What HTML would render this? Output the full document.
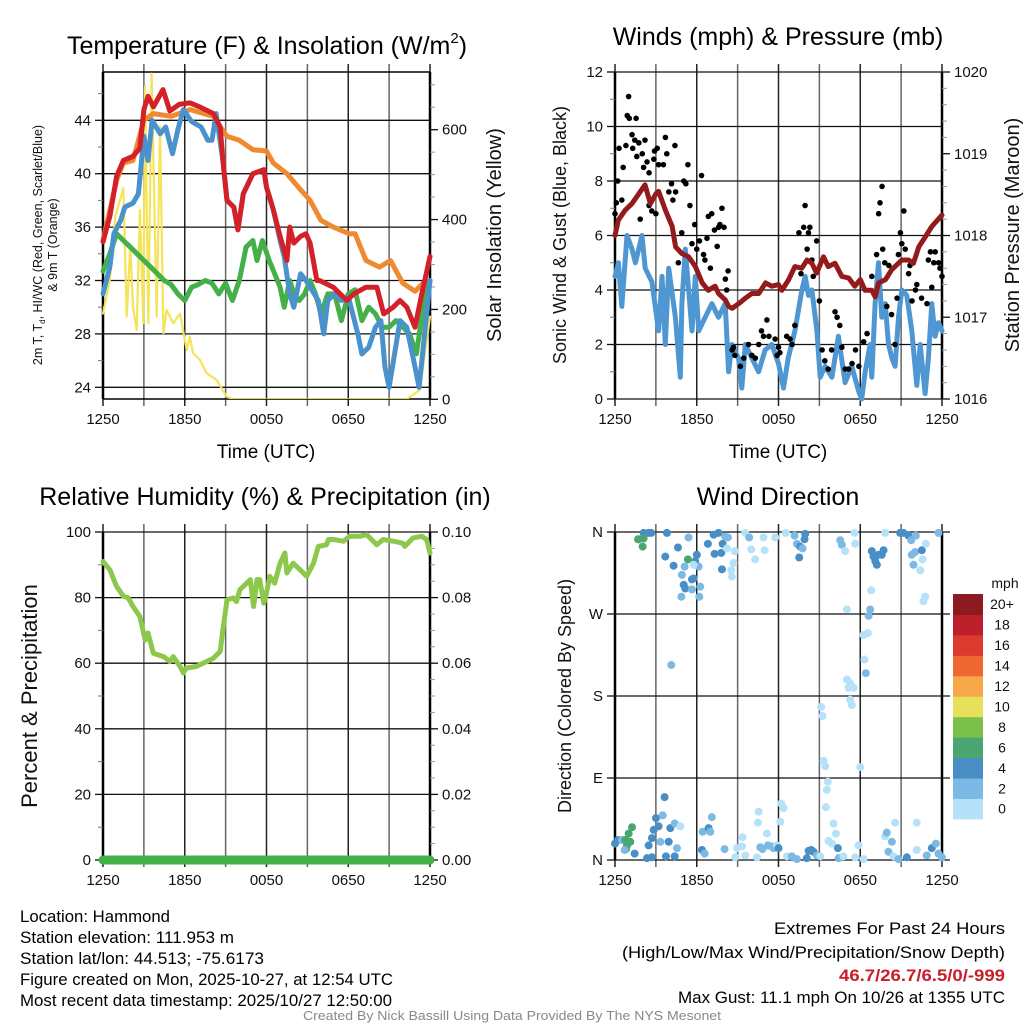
<!DOCTYPE html>
<html><head><meta charset="utf-8"><style>
html,body{margin:0;padding:0;background:#fff;}
svg{display:block;font-family:"Liberation Sans",Arial,sans-serif;}
</style></head><body>
<svg id="fig" width="1024" height="1024" viewBox="0 0 1024 1024" xmlns="http://www.w3.org/2000/svg">
<rect width="1024" height="1024" fill="#fff"/>
<defs><clipPath id="c1"><rect x="99" y="72" width="335" height="327"/></clipPath></defs>
<g id="root"></g>
</svg>
<script>
// ---------- DATA ----------
const tempHours=[0,0.5,1.0,1.5,2.2,2.7,3.0,3.3,3.7,4.4,4.9,5.6,6.4,7.1,8.1,8.6,8.8,9.1,9.6,9.9,10.3,11.0,11.8,12.0,12.5,13.0,13.5,13.7,14.0,14.5,14.9,15.2,15.7,15.9,16.9,17.9,18.4,19.3,20.1,20.6,21.3,21.8,22.3,22.9,23.4,24];
const tempValues=[34.9,36.8,39.8,41.0,41.3,41.9,44.8,45.8,45.0,46.3,44.7,45.2,45.3,45.0,44.5,43.5,41.0,38.0,37.5,35.8,38.5,40.0,40.3,39.0,37.3,35.3,33.5,36.0,34.8,35.3,35.5,34.8,32.0,32.0,31.5,30.5,31.0,31.5,31.5,29.5,30.0,30.5,30.0,28.5,31.0,33.8];
const t9Hours=[0,1,1.5,2.2,3,3.7,5,6.4,8.1,8.6,9.1,10,11,12,12.5,13.5,14.5,15.2,16,16.9,18.1,18.5,19.3,20.3,21.1,22,22.9,23.5,24];
const t9Values=[35,39.5,40.8,41,44,44.5,44.3,44.8,44.3,43.5,42.8,42.5,41.8,41.7,40.8,40,38.8,38,36.5,36,35.5,35.5,33.5,33,33.5,31.8,31.2,31.8,32];
const wcHours=[0,0.5,0.8,1.3,1.6,2.2,2.6,3.0,3.3,3.6,4.2,4.6,5.1,5.5,5.9,6.5,7.2,7.7,8.0,8.3,8.8,9.1,9.6,9.9,10.3,11,11.8,12,12.5,13,13.3,13.7,14.0,14.5,14.9,15.2,15.8,16.2,16.5,17,17.5,18,18.7,19,19.5,20,20.4,20.7,21,21.8,22.3,22.8,23.2,23.6,24];
const wcValues=[31,33,35.5,36.5,37.5,37.8,38.5,42.8,41,44,43,43.5,41.5,43.3,44.8,43.9,43.5,42.5,42.5,44.5,41,38,37.5,35.8,38.5,40,40.3,39,37.3,35,33.8,31,30,32.5,32,31.5,30.5,28,30.5,31,30.5,30.8,28,26.5,27,28.5,29,25.5,24,29,28.5,26,24,28,32];
const tdHours=[0,0.5,1,1.5,2,2.5,3,3.5,4,4.5,5,5.5,6,6.5,7,7.5,8,8.5,9,9.5,10,10.5,11,11.3,11.7,12.2,12.6,13,13.3,13.7,14,14.4,14.8,15.2,15.6,16,16.5,17,17.5,18,18.5,19,19.5,20,20.5,21,21.5,22,22.5,23,23.5,24];
const tdValues=[32.7,34,35.5,35,34.5,34,33.5,33,32.5,32,31.7,31,30.5,31.5,31.7,32,31.8,31,31.8,30.5,32,34.5,35,33.5,35,33.5,32.5,31.5,30,32,31,30.5,31,32,31,29.5,31,31,29,31,31.3,29,30,29.5,28.5,28.5,29,28.5,28,26.5,30,32];
const solarHours=[0,0.5,0.9,1.5,1.74,2.0,2.2,2.47,2.71,2.96,3.08,3.33,3.57,3.94,4.18,4.43,4.67,5.16,5.65,6.14,6.38,6.62,7.11,7.6,8.34,9.07,9.56,14,20,22.27,23.25,24];
const solarValues=[191,265,406,470,184,340,206,154,421,169,696,169,725,184,607,147,199,169,191,110,139,102,88,58,43,6,0,0,0,0,21,184];
const windHours=[0,0.25,0.5,0.88,1.25,1.5,1.98,2.22,2.71,3.2,3.45,3.69,3.94,4.43,4.79,4.91,5.16,5.65,5.89,6.14,6.62,7.11,7.6,8.09,8.34,8.58,9.07,9.31,9.56,10.05,10.54,11.02,11.51,12.0,12.37,12.71,13.2,13.72,13.96,14.2,14.45,14.82,15.06,15.43,15.92,16.4,16.89,17.38,17.87,18.11,18.36,18.72,18.85,19.09,19.34,19.58,19.83,20.07,20.32,20.56,20.81,21.05,21.42,21.78,22.15,22.4,22.76,23.0,23.25,23.49,23.74,24];
const windValues=[4.5,5.0,3.4,6.0,5.5,5.0,6.0,4.8,4.3,2.5,4.5,2.0,4.8,3.0,0.8,3.5,5.5,2.5,4.5,2.5,3.0,3.5,3.0,3.5,1.0,2.0,1.5,0.4,2.0,1.5,1.0,1.8,2.0,1.3,0.4,1.5,2.5,4.0,4.5,3.8,4.0,2.5,0.8,1.2,0.8,2.3,0.6,1.2,0.3,0,1.0,2.0,0.8,3.5,5.0,3.0,3.5,2.0,1.5,1.2,3.0,4.0,3.8,2.5,0.5,2.0,0.2,1.5,3.5,2.3,2.8,2.5];
const gustHours=[0,0.1,0.2,0.3,0.5,0.6,0.8,0.9,1.0,1.05,1.25,1.3,1.45,1.55,1.6,1.75,1.85,2.0,2.1,2.2,2.35,2.5,2.5,2.7,2.85,2.9,3.0,3.1,3.2,3.55,3.7,3.8,3.95,4.15,4.25,4.4,4.45,4.65,4.9,5.05,5.2,5.35,5.5,5.65,5.85,6.0,6.2,6.35,6.5,6.6,6.75,6.85,7.0,7.1,7.3,7.5,7.6,7.7,7.85,8.0,8.1,8.2,8.3,8.6,8.7,8.8,9.2,9.45,9.8,10.05,10.3,10.55,10.75,10.9,11.15,11.3,11.75,11.9,12.0,12.1,12.6,12.85,13.0,13.2,13.5,13.65,13.85,13.95,14.1,14.2,14.3,14.45,14.55,14.8,15.0,15.2,15.4,15.65,15.9,16.15,16.3,16.5,16.65,16.9,17.15,17.4,17.65,17.9,18.25,18.5,18.85,19.2,19.35,19.45,19.6,19.65,19.8,19.95,20.1,20.3,20.55,20.7,20.8,20.95,21.05,21.2,21.3,21.55,21.65,21.8,22.05,22.15,22.5,22.9,23.0,23.15,23.25,23.4,23.5,23.75,23.85,24];
const gustValues=[6.8,7.2,8.0,9.2,7.3,8.5,9.3,10.4,11.1,10.3,9.7,9.2,9.5,10.3,8.9,9.4,6.6,9.0,8.5,9.5,8.7,8.3,7.1,6.9,8.8,9.1,6.8,9.2,8.6,8.6,9.6,9.0,7.6,7.9,7.3,9.3,7.6,5.0,6.1,8.0,7.9,8.6,7.1,5.7,6.4,5.5,5.8,8.2,5.3,5.1,5.9,6.7,4.8,6.8,6.2,5.6,6.3,6.4,7.0,6.3,4.4,4.0,4.7,1.8,1.9,1.6,1.2,1.5,2.0,1.6,1.5,2.0,2.5,2.3,2.9,2.3,2.2,1.6,1.9,1.7,2.3,2.2,2.0,2.7,6.1,4.6,6.3,7.1,5.5,6.1,6.3,5.1,4.5,5.8,3.6,1.8,1.4,1.1,1.8,3.2,3.0,2.7,1.9,1.1,1.1,1.3,1.8,1.2,2.1,2.4,4.5,5.3,6.8,7.2,7.8,5.5,5.0,3.4,4.9,3.1,2.0,3.7,5.3,6.1,5.7,6.9,5.5,4.6,4.9,3.6,4.0,4.2,3.7,3.5,5.1,5.4,4.1,5.0,5.4,5.0,4.8,4.5];
const presHours=[0,0.25,0.75,1.25,1.75,2.2,2.6,3.0,3.2,3.7,4.2,4.45,4.9,5.4,5.9,6.4,6.85,7.35,7.6,8.1,8.35,8.6,9.1,9.55,10.05,10.55,11.05,11.5,12.0,12.25,12.75,13.2,13.7,14.1,14.45,14.8,15.3,15.65,16.15,16.65,17.15,17.6,18.0,18.35,18.85,19.1,19.35,19.85,20.3,21.05,21.55,21.9,22.3,22.8,23.25,24];
const presValues=[1018.0,1018.19,1018.31,1018.39,1018.51,1018.62,1018.39,1018.51,1018.54,1018.31,1018.11,1017.86,1017.78,1017.74,1017.62,1017.42,1017.33,1017.38,1017.29,1017.21,1017.13,1017.11,1017.17,1017.23,1017.29,1017.29,1017.42,1017.38,1017.40,1017.33,1017.46,1017.62,1017.60,1017.70,1017.66,1017.54,1017.74,1017.62,1017.66,1017.50,1017.48,1017.38,1017.46,1017.33,1017.33,1017.25,1017.42,1017.46,1017.58,1017.70,1017.70,1017.66,1017.86,1017.99,1018.11,1018.25];
const rhHours=[0,0.5,1.0,1.5,1.85,2.2,2.7,3.1,3.3,3.7,4.45,4.9,5.15,5.65,5.9,6.1,6.85,7.35,8.1,8.6,8.8,9.1,9.55,9.8,10.05,10.55,10.8,11.05,11.3,11.5,11.8,12.0,12.25,12.6,13.0,13.35,13.5,13.95,14.45,14.95,15.45,15.8,16.4,16.55,16.9,17.65,18.1,18.85,19.35,20.1,20.55,21.3,22.0,22.15,22.75,23.4,23.75,24];
const rhValues=[91,88.5,83.4,80.4,79.9,77.3,74.3,67,69.2,63,62,60.5,62,59,57,58.5,59,60,61.5,63.6,70.2,79.3,79.9,78.8,82.4,84.4,85.5,77.3,85.5,85.5,78.3,81.4,86.5,84.4,90.5,93.6,87.5,90.5,88.5,86.5,90.5,95.6,96.1,97.7,97.7,97.2,98.7,98.7,99.2,96.1,97.7,97.2,96.6,95.6,98.2,98.7,97.7,93.6];
const precipHours=[0,24];
const precipValues=[0,0];
const dirHours=[1.74,2.10,2.47,2.66,1.69,2.03,2.10,3.81,3.69,4.30,4.62,5.40,5.35,5.11,4.91,5.04,5.16,5.65,5.77,5.65,6.26,4.87,6.19,6.01,5.89,6.14,5.77,6.82,7.24,7.60,8.09,8.29,7.31,7.80,7.90,7.85,8.22,8.78,8.70,8.53,8.58,9.56,9.85,10.0,10.29,10.9,10.98,11.76,12.54,13.18,13.35,13.59,13.77,13.91,13.96,13.52,16.53,16.65,16.89,17.58,17.63,18.85,18.97,19.22,19.34,19.58,19.71,19.10,19.83,20.93,21.17,21.54,21.74,22.08,21.78,22.03,22.52,21.91,22.57,22.81,22.40,22.76,22.64,23.74,
4.13,18.80,17.02,18.73,18.61,18.56,18.24,18.31,18.41,17.02,17.26,17.14,17.51,17.26,17.38,15.13,15.23,15.31,15.43,18.0,15.62,15.55,15.48,
0.0,0.22,0.51,0.76,0.88,1.12,1.0,1.25,0.81,0.71,1.44,2.35,2.71,2.47,2.71,2.84,3.01,3.20,3.50,3.64,3.33,3.94,4.06,4.38,4.55,4.79,3.74,4.38,6.43,6.87,6.99,7.11,6.38,6.58,8.04,8.83,8.95,9.32,9.36,9.56,10.42,10.54,10.49,10.66,10.83,11.15,11.22,11.47,11.64,11.88,12.0,12.13,12.2,12.37,12.62,12.98,13.35,14.08,14.21,14.40,14.57,14.82,15.06,15.67,15.92,16.04,16.21,16.36,16.41,16.77,17.63,17.87,18.24,19.83,19.95,20.32,20.56,20.07,20.44,20.81,21.42,22.15,22.15,22.88,23.25,23.55,23.74,23.99];
const dirDegrees=[352,359,359,359,352,344,353,359,333,323,343,354,330,322,313,302,298,308,309,297,300,289,289,335,328,322,324,347,357,359,355,354,336,337,347,319,342,339,326,318,311,359,354,341,330,354,340,354,359,356,347,344,342,352,358,332,351,346,339,359,347,339,333,324,335,335,340,328,359,359,359,356,351,356,335,338,340,324,330,347,318,289,284,359,
214,296,275,275,268,249,247,220,205,198,194,189,189,176,170,168,158,109,103,102,86,77,58,
18,22,22,22,16,20,29,36,12,11,7,2,3,16,24,33,46,37,49,69,20,20,35,40,13,37,4,4,31,35,31,47,11,7,12,3,13,15,25,5,3,53,41,14,12,29,16,15,13,16,13,42,62,57,4,4,1,2,10,11,9,5,4,21,18,40,29,13,2,4,3,16,1,26,30,20,41,9,4,1,3,41,11,5,13,18,7,3];
const dirSpeeds=[5,5,5,5,7,7,7,5,5,5,5,3,7,3,3,5,5,5,5,3,3,3,3,5,5,3,1,5,5,5,3,3,5,5,5,5,1,1,1,1,1,1,3,1,1,1,1,1,1,3,3,5,3,5,5,5,3,3,1,1,1,5,5,5,5,5,5,5,1,5,5,5,3,3,3,3,5,3,1,1,1,1,1,3,
3,1,1,3,3,1,1,1,3,1,1,1,1,1,1,1,1,1,1,1,1,1,1,
5,5,3,7,7,7,7,7,7,3,5,5,5,5,5,5,5,5,3,5,3,5,5,3,3,1,5,5,3,5,3,3,5,3,3,1,1,1,1,1,1,1,1,3,3,1,3,3,3,1,5,1,1,1,1,3,3,5,5,5,5,3,1,1,1,1,1,5,3,1,1,1,1,1,3,3,1,3,1,3,5,1,1,3,5,3,3,3];
const timeLabels=["1250","1850","0050","0650","1250"];
const speedBinLabels=["0","2","4","6","8","10","12","14","16","18","20+"];
const speedBinColors=["#b5e2f8","#7cb9e4","#4a8ec6","#4aa670","#7cc04c","#e6e05a","#f6a84a","#ee6630","#dc3a2c","#bd1f2a","#8d1a1e"];

// ---------- HELPERS ----------
const NS="http://www.w3.org/2000/svg";
const root=document.getElementById('root');
function el(tag,attrs,parent,text){const e=document.createElementNS(NS,tag);for(const k in attrs)e.setAttribute(k,attrs[k]);if(text!==undefined)e.textContent=text;(parent||root).appendChild(e);return e;}
function lin(d0,d1,r0,r1){return v=>r0+(v-d0)*(r1-r0)/(d1-d0);}
const TF=15;

function frame(g,X0,X1,Y0,Y1){
  for(let i=0;i<=8;i++){
    const x=X0+i*(X1-X0)/8;
    const l=el('line',{x1:x,x2:x,y1:Y0-8,y2:Y1+7,stroke:(i%2?'#666':'#222'),'stroke-width':1.5},g);
    
    
  }
  for(let i=0;i<5;i++){
    const t=el('text',{x:X0+i*(X1-X0)/4,y:Y1+25,'text-anchor':'middle','font-size':TF,fill:'#111'},g,timeLabels[i]);
    
    
  }
  el('line',{x1:X0,x2:X0,y1:Y0,y2:Y1,stroke:'#000','stroke-width':2.5},g);
  el('line',{x1:X1,x2:X1,y1:Y0,y2:Y1,stroke:'#000','stroke-width':2.5},g);
}
function yAxis(g,X0,X1,sy,vals,labels,minor,side){
  vals.forEach((v,i)=>{
    const y=sy(v);
    el('line',{x1:X0,x2:X1,y1:y,y2:y,stroke:'#111','stroke-width':1.3},g);
    if(side==='left'){
      el('line',{x1:X0-8,x2:X0,y1:y,y2:y,stroke:'#111','stroke-width':1.3},g);
      const t=el('text',{x:X0-12,y:y+5,'text-anchor':'end','font-size':TF,fill:'#111'},g,labels[i]);
      
      
    }
  });
  minor.forEach(v=>{const y=sy(v);el('line',{x1:X0-5,x2:X0,y1:y,y2:y,stroke:'#777','stroke-width':1},g);});
}
function rAxis(g,X1,sy,vals,labels,minor){
  vals.forEach((v,i)=>{const y=sy(v);
    el('line',{x1:X1,x2:X1+8,y1:y,y2:y,stroke:'#111','stroke-width':1.3},g);
    const t=el('text',{x:X1+12,y:y+5,'font-size':TF,fill:'#111'},g,labels[i]);
    
    
  });
  minor.forEach(v=>{const y=sy(v);el('line',{x1:X1,x2:X1+5,y1:y,y2:y,stroke:'#999','stroke-width':1},g);});
}
function path(g,xs,ys,sx,sy,color,w,name){
  let d='';xs.forEach((h,i)=>{d+=(i?'L':'M')+sx(h).toFixed(1)+','+sy(ys[i]).toFixed(1);});
  const p=el('path',{d:d,fill:'none',stroke:color,'stroke-width':w,'stroke-linejoin':'round','stroke-linecap':'round'},g);
  
  
  return p;
}
function rtext(g,x,y,size,txt,name){
  const t=el('text',{x:0,y:0,'font-size':size,'text-anchor':'middle',transform:`translate(${x},${y}) rotate(-90)`,fill:'#111'},g,txt);
  
  
  return t;
}
function title(x,y,txt,name,size){const t=el('text',{x:x,y:y,'text-anchor':'middle','font-size':size||25,fill:'#000'},root,txt);return t;}
const range=(a,b,s)=>{const r=[];for(let v=a;v<=b+1e-9;v+=s)r.push(+v.toFixed(4));return r;};

// ---------- PANEL 1: Temperature ----------
{
  const g=el('g',{});
  
  
  const X0=103,X1=430,Y0=72,Y1=399;
  const sx=lin(0,24,X0,X1), sy=lin(24,44,387.3,120.3), ss=lin(0,600,399.3,129.7);
  frame(g,X0,X1,Y0,Y1);
  yAxis(g,X0,X1,sy,[24,28,32,36,40,44],["24","28","32","36","40","44"],[26,30,34,38,42,46],'left');
  rAxis(g,X1,ss,[0,200,400,600],["0","200","400","600"],[50,100,150,250,300,350,450,500,550,650,700]);
  el('line',{x1:X0,x2:X1,y1:Y0,y2:Y0,stroke:'#000','stroke-width':1.5},g);
  el('line',{x1:X0,x2:X1,y1:Y1,y2:Y1,stroke:'#000','stroke-width':1.5},g);
  const cg=el('g',{'clip-path':'url(#c1)'},g);
  path(cg,solarHours,solarValues,sx,ss,'#f5e35a',2.2,'solar-insolation-line');
  path(cg,t9Hours,t9Values,sx,sy,'#f08a30',5,'9m-temperature-line');
  path(cg,tdHours,tdValues,sx,sy,'#44b048',5,'dewpoint-line');
  path(cg,wcHours,wcValues,sx,sy,'#4a92cc',5,'wind-chill-line');
  path(cg,tempHours,tempValues,sx,sy,'#d42028',5,'temperature-line');
  const t1=el('text',{x:0,y:0,'font-size':12.5,'text-anchor':'middle',transform:'translate(42,245) rotate(-90)',fill:'#111'},g);
  
  
  t1.innerHTML='2m T, T<tspan font-size="8" dy="3">d</tspan><tspan dy="-3">, HI/WC (Red, Green, Scarlet/Blue)</tspan>';
  rtext(g,57,245,12.5,'& 9m T (Orange)','temperature-y-axis-title-line2');
  rtext(g,501,235,20,'Solar Insolation (Yellow)','solar-y-axis-title');
  const xt=el('text',{x:266,y:458,'text-anchor':'middle','font-size':19,fill:'#000'},g,'Time (UTC)');
  
  
}
{ const t=el('text',{x:267,y:54,'text-anchor':'middle','font-size':25,fill:'#000'},root);
  
  
  t.innerHTML='Temperature (F) &amp; Insolation (W/m<tspan font-size="15" dy="-11">2</tspan><tspan dy="11">)</tspan>';
}

// ---------- PANEL 2: Winds ----------
{
  const g=el('g',{});
  
  
  const X0=615,X1=942,Y0=72,Y1=399;
  const sx=lin(0,24,X0,X1), sy=lin(0,12,Y1,Y0), sp=lin(1016,1020,Y1,Y0);
  frame(g,X0,X1,Y0,Y1);
  yAxis(g,X0,X1,sy,[0,2,4,6,8,10,12],["0","2","4","6","8","10","12"],[1,3,5,7,9,11],'left');
  rAxis(g,X1,sp,[1016,1017,1018,1019,1020],["1016","1017","1018","1019","1020"],range(1016.2,1019.8,0.2).filter(v=>Math.abs(v-Math.round(v))>0.01));
  path(g,windHours,windValues,sx,sy,'#4f97d2',5,'sonic-wind-line');
  gustHours.forEach((h,i)=>{
    const c=el('circle',{cx:sx(h),cy:sy(gustValues[i]),r:2.8,fill:'#000'},g);
    
    
  });
  path(g,presHours,presValues,sx,sp,'#941a1c',5,'station-pressure-line');
  rtext(g,566,235,18,'Sonic Wind & Gust (Blue, Black)','wind-y-axis-title');
  rtext(g,1019,235,20,'Station Pressure (Maroon)','pressure-y-axis-title');
  const xt=el('text',{x:778,y:458,'text-anchor':'middle','font-size':19,fill:'#000'},g,'Time (UTC)');
  
  
}
title(778,45,'Winds (mph) & Pressure (mb)','winds-title',25);

// ---------- PANEL 3: RH ----------
{
  const g=el('g',{});
  
  
  const X0=103,X1=430,Y0=532,Y1=860;
  const sx=lin(0,24,X0,X1), sy=lin(0,100,Y1,Y0), sq=lin(0,0.1,Y1,Y0);
  frame(g,X0,X1,Y0,Y1);
  yAxis(g,X0,X1,sy,[0,20,40,60,80,100],["0","20","40","60","80","100"],[10,30,50,70,90],'left');
  rAxis(g,X1,sq,[0,0.02,0.04,0.06,0.08,0.1],["0.00","0.02","0.04","0.06","0.08","0.10"],[0.005,0.01,0.015,0.025,0.03,0.035,0.045,0.05,0.055,0.065,0.07,0.075,0.085,0.09,0.095]);
  path(g,rhHours,rhValues,sx,sy,'#8cc84c',5,'relative-humidity-line');
  path(g,precipHours,precipValues,sx,sq,'#44b048',9,'precipitation-line');
  rtext(g,37,696,22,'Percent & Precipitation','rh-y-axis-title');
}
title(265,505,'Relative Humidity (%) & Precipitation (in)','humidity-title',25);

// ---------- PANEL 4: Wind Direction ----------
{
  const g=el('g',{});
  
  
  const X0=615,X1=942,Y0=532,Y1=860;
  const sx=lin(0,24,X0,X1), sy=lin(0,360,Y1,Y0);
  frame(g,X0,X1,Y0,Y1);
  yAxis(g,X0,X1+8,sy,[0,90,180,270,360],["N","E","S","W","N"],[],'left');
  const colorFor=s=>speedBinColors[Math.min(10,Math.floor(s/2))];
  dirHours.forEach((h,i)=>{
    const c=el('circle',{cx:sx(h),cy:sy(dirDegrees[i]),r:4,fill:colorFor(dirSpeeds[i])},g);
    
    
  });
  rtext(g,571,696,18,'Direction (Colored By Speed)','direction-y-axis-title');
  const cb=el('g',{},g);
  
  
  const top=594,h=20.45;
  speedBinColors.forEach((c,i)=>{
    const y=top+(10-i)*h;
    const r=el('rect',{x:953,y:y,width:30,height:h+0.5,fill:c},cb);
    
    
    const t=el('text',{x:1002,y:y+h/2+5,'text-anchor':'middle','font-size':14,fill:'#111'},cb,speedBinLabels[i]);
    
    
  });
  const mt=el('text',{x:1005,y:588,'text-anchor':'middle','font-size':14,fill:'#111'},cb,'mph');
  
  
}
title(778,505,'Wind Direction','wind-direction-title',25);

// ---------- FOOTER TEXT ----------
function ftext(x,y,txt,w,anchor,name,extra){
  const t=el('text',Object.assign({x:x,y:y,'font-size':16.5,fill:'#000','text-anchor':anchor,textLength:w,lengthAdjust:'spacingAndGlyphs'},extra||{}),root,txt);
  
  
}
ftext(20,922,'Location: Hammond',150,'start','location-text');
ftext(20,943,'Station elevation: 111.953 m',214,'start','elevation-text');
ftext(20,964,'Station lat/lon: 44.513; -75.6173',244,'start','latlon-text');
ftext(20,985,'Figure created on Mon, 2025-10-27, at 12:54 UTC',373,'start','created-text');
ftext(20,1006,'Most recent data timestamp: 2025/10/27 12:50:00',372,'start','timestamp-text');
ftext(1005,934,'Extremes For Past 24 Hours',231,'end','extremes-title');
ftext(1005,958,'(High/Low/Max Wind/Precipitation/Snow Depth)',383,'end','extremes-legend');
ftext(1005,981,'46.7/26.7/6.5/0/-999',166,'end','extremes-values',{fill:'#c8202a','font-weight':'bold'});
ftext(1005,1003,'Max Gust: 11.1 mph On 10/26 at 1355 UTC',327,'end','max-gust-text');
ftext(512,1020,'Created By Nick Bassill Using Data Provided By The NYS Mesonet',418,'middle','credit-text',{'font-size':13,fill:'#888'});
</script>
</body></html>
